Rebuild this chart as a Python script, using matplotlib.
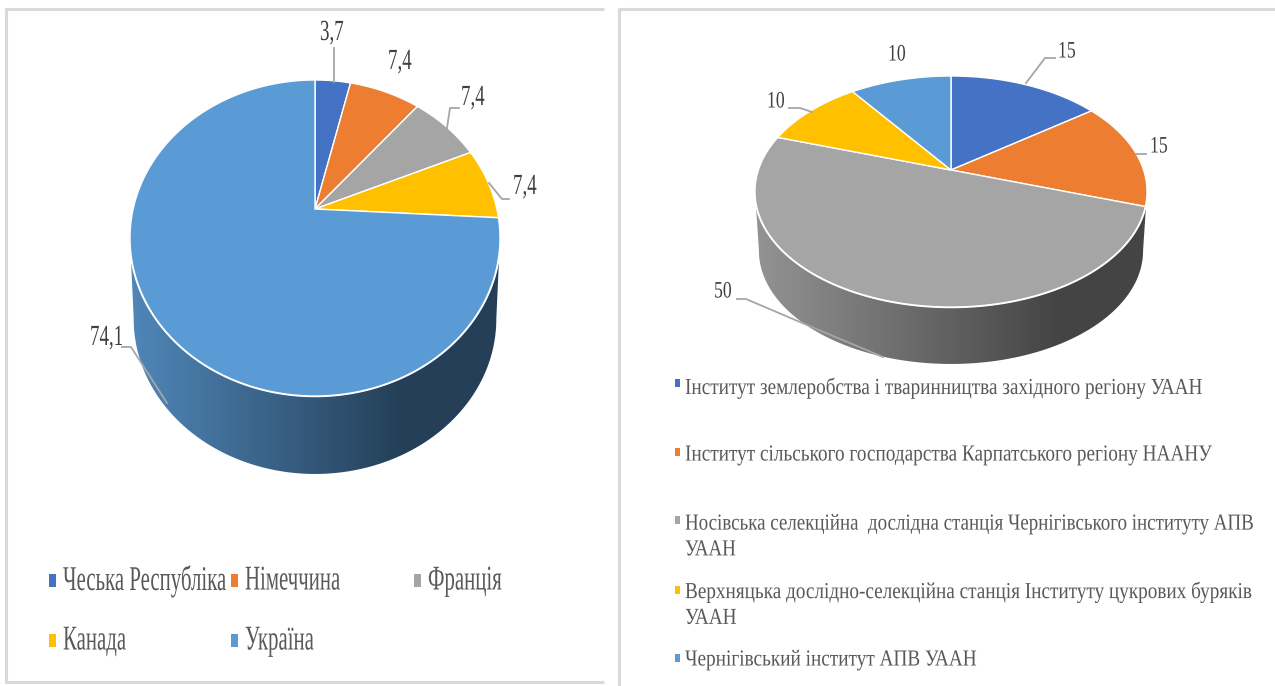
# two extruded pies with a perspective top, drawn on one pixel-sized axes

import matplotlib
matplotlib.use("Agg")
import matplotlib.pyplot as plt
import matplotlib.patheffects as pe
import numpy as np
from matplotlib.colors import LinearSegmentedColormap
from matplotlib.patches import Polygon, Rectangle
from matplotlib.transforms import Affine2D, Bbox

colors = ["#4472C4", "#ED7D31", "#A5A5A5", "#FFC000", "#5B9BD5"]

left_names = ["Чеська Республіка", "Німеччина", "Франція", "Канада", "Україна"]
left_values = [3.7, 7.4, 7.4, 7.4, 74.1]
left_labels = ["3,7", "7,4", "7,4", "7,4", "74,1"]

right_names = [
    "Інститут землеробства і тваринництва західного регіону УААН",
    "Інститут сільського господарства Карпатського регіону НААНУ",
    "Носівська селекційна  дослідна станція Чернігівського інституту АПВ\nУААН",
    "Верхняцька дослідно-селекційна станція Інституту цукрових буряків\nУААН",
    "Чернігівський інститут АПВ УААН",
]
right_values = [15, 15, 50, 10, 10]
right_labels = ["15", "15", "50", "10", "10"]


class Condense(pe.AbstractPathEffect):
    # narrow the glyphs, the source picture was squeezed horizontally
    def __init__(self, sx):
        super().__init__()
        self.sx = sx

    def draw_path(self, renderer, gc, tpath, affine, rgbFace=None):
        renderer.draw_path(gc, tpath, Affine2D().scale(self.sx, 1) + affine, rgbFace)


def label(x, y, s, size, sx, color="#404040", **kw):
    t = ax.text(x, y, s, fontsize=size, color=color, ha="left", va="center",
                family="Liberation Serif", path_effects=[Condense(sx)], **kw)
    full_extent = t.get_window_extent

    # report the box that is really drawn, not the unsqueezed one
    def extent(renderer=None, dpi=None):
        bb = full_extent(renderer, dpi)
        return Bbox.from_extents(bb.x0, bb.y0, bb.x0 + sx * bb.width, bb.y1)

    t.get_window_extent = extent
    return t


def make_proj(cx, cy, top, bottom, halfw):
    # circle -> ellipse homography, apex (cx, cy) sits above the ellipse centre
    up, down = cy - top, bottom - cy
    c = (up - down) / (up + down)
    B = up * (1 - c)
    A = halfw * np.sqrt(1 - c * c)

    def proj(theta):
        d = 1 - c * np.cos(theta)
        return A * np.sin(theta) / d, B * np.cos(theta) / d

    return proj


def draw_pie(values, cx, cy, top, bottom, halfw, depth, shade, grad_x):
    proj = make_proj(cx, cy, top, bottom, halfw)
    t = np.linspace(0, 2 * np.pi, 721)
    X, Y = proj(t)

    # side wall: lower rim joined to the widest points of the top rim
    s = 0.98
    low = np.column_stack([cx + s * X, cy + depth - s * Y])
    rim = np.column_stack([cx + X, cy - Y])
    iy = np.argsort(X)
    wall_pts = np.vstack([rim[[iy[-1]]], low[iy[-1]:iy[0] + 1], rim[[iy[0]]]])
    wall = Polygon(wall_pts, closed=True, fc="none", ec="none")
    ax.add_patch(wall)
    cmap = LinearSegmentedColormap.from_list("wall", shade)
    grad = np.clip((np.linspace(cx - halfw, cx + halfw, 256) - grad_x[0]) / (grad_x[1] - grad_x[0]), 0, 1)
    im = ax.imshow(grad[None, :], cmap=cmap, vmin=0, vmax=1, aspect="auto", zorder=1,
                   extent=[cx - halfw, cx + halfw, bottom + depth + 5, cy - 5])
    im.set_clip_path(wall)

    # white rim under the wedges
    ax.add_patch(Polygon(rim, closed=True, fc="white", ec="white", lw=1.8, zorder=2))

    frac = np.cumsum([0] + list(values)) / np.sum(values) * 2 * np.pi
    for i in range(len(values)):
        a = np.linspace(frac[i], frac[i + 1], 200)
        xs, ys = proj(a)
        pts = np.column_stack([np.r_[0, xs] + cx, cy - np.r_[0, ys]])
        ax.add_patch(Polygon(pts, closed=True, fc=colors[i], ec="white", lw=1.0, zorder=3))


fig = plt.figure(figsize=(12.75, 6.86), dpi=100)
ax = fig.add_axes([0, 0, 1, 1])

draw_pie(left_values, 315, 209, 80, 396, 185, 81.7, ["#4F86B8", "#243F57"], (133, 405))
draw_pie(right_values, 951, 170, 76, 307, 196, 59.7, ["#929292", "#444444"], (760, 1060))

ax.set_xlim(0, 1275)
ax.set_ylim(686, 0)
ax.axis("off")

# panel frames
fr = dict(color="#D9D9D9", lw=2.2, zorder=0, solid_capstyle="butt")
ax.plot([604, 6, 6, 604], [9, 9, 682, 682], **fr)
ax.plot([1275, 619, 619], [9, 9, 686], **fr)

# leader lines
lead = dict(color="#A6A6A6", lw=1.3, zorder=4)
ax.plot([334, 334], [48, 82], **lead)
ax.plot([459, 450, 447], [108, 108, 128], **lead)
ax.plot([489, 502, 509], [183, 199, 199], **lead)
ax.plot([122, 131, 167], [347, 347, 403], **lead)
ax.plot([1055, 1045, 1026], [58, 58, 83], **lead)
ax.plot([1146, 1136], [154, 154], **lead)
ax.plot([789, 800, 812], [108, 108, 112], **lead)
ax.plot([737, 746, 814, 883], [299, 299, 328, 357], **lead)

# data labels
for (x, y), s in zip([(320, 33), (388, 62), (461, 98), (513, 187), (90, 338)], left_labels):
    label(x, y, s, 21, 0.65)
for (x, y), s in zip([(1058, 52), (1150, 147), (714, 292), (767, 102), (888, 55)], right_labels):
    label(x, y, s, 17, 0.75)

# legends
for name, col, x, y in zip(left_names, colors, [63, 245, 428, 63, 245], [581, 581, 581, 641, 641]):
    ax.add_patch(Rectangle((x - 14, y - 7), 7, 13, fc=col, ec="none"))
    label(x, y, name, 25, 0.6, color="#595959")

right_sx = [0.84, 0.84, 0.827, 0.838, 0.84]
for name, col, y, my, sx in zip(right_names, colors, [388, 455, 537, 605, 660], [383, 452, 520, 590, 658], right_sx):
    ax.add_patch(Rectangle((675, my - 4), 5, 8, fc=col, ec="none"))
    label(685, y, name, 16.5, sx, color="#595959", linespacing=1.3)

fig.savefig("out.png", dpi=100)
